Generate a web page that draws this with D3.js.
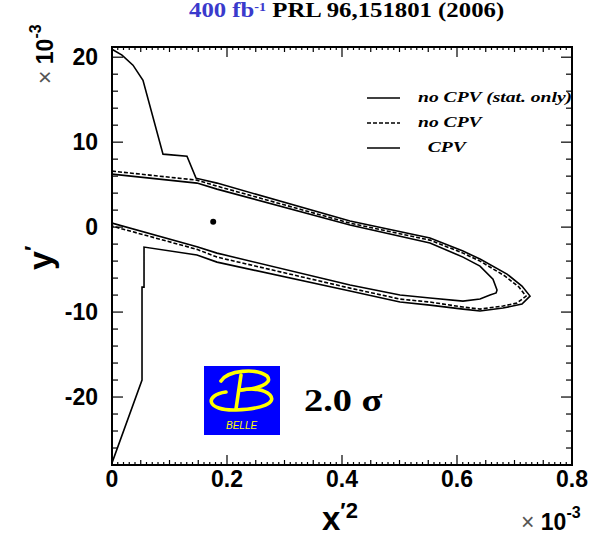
<!DOCTYPE html>
<html><head><meta charset="utf-8">
<script src="https://cdn.jsdelivr.net/npm/d3@7"></script>
<style>body{margin:0;background:#fff}svg{display:block}</style>
</head><body><svg id="c" width="604" height="536"></svg>
<script>
// ---- data (x'^2 and y' in units of 1e-3) ----
const xTickValues = [0, 0.2, 0.4, 0.6, 0.8];
const xTickLabels = ["0", "0.2", "0.4", "0.6", "0.8"];
const yTickValues = [-20, -10, 0, 10, 20];
const yTickLabels = ["-20", "-10", "0", "10", "20"];

const legendLabels = ["no CPV (stat. only)", "no CPV", "  CPV"];

// stat-only contour (solid, innermost)
const statOnly = [
  [0, 6.24], [0.1478, 5.18], [0.1826, 4.47], [0.4139, 0.24], [0.5530, -1.88],
  [0.6104, -3.53], [0.6400, -4.59], [0.6626, -6.12], [0.6696, -7.41], [0.6680, -7.75],
  [0.6574, -8.0], [0.6400, -8.47], [0.6104, -8.71], [0.5530, -8.35], [0.5009, -8.0],
  [0.4139, -6.82], [0.1826, -3.06], [0.1478, -2.31], [0, 0.47]
];
// no CPV contour (dashed)
const noCPV = [
  [0, 6.59], [0.1478, 5.53], [0.1826, 4.82], [0.4139, 0.47], [0.5530, -1.53],
  [0.6104, -3.06], [0.6400, -4.0], [0.6835, -5.76], [0.7078, -7.06], [0.7200, -8.12],
  [0.7043, -8.94], [0.6800, -9.29], [0.6400, -9.65], [0.6104, -9.41], [0.5530, -8.82],
  [0.5009, -8.47], [0.4139, -7.18], [0.1826, -3.53], [0.1478, -2.62], [0, 0.12]
];
// CPV contour (solid, outermost)
const cpv = [
  [0, 20.94], [0.0174, 20.24], [0.0365, 19.06], [0.0539, 17.29], [0.0887, 8.59],
  [0.1304, 8.35], [0.1461, 5.76], [0.1826, 5.18], [0.4139, 0.71], [0.5530, -1.29],
  [0.6104, -2.82], [0.6400, -3.76], [0.6870, -5.53], [0.7130, -6.94], [0.7270, -8.12],
  [0.7130, -9.06], [0.6800, -9.53], [0.6400, -9.88], [0.6104, -9.65], [0.5530, -9.18],
  [0.5009, -8.82], [0.4139, -7.53], [0.1826, -4.12], [0.1478, -3.29], [0.0557, -2.35],
  [0.0557, -7.06], [0.0522, -7.06], [0.0522, -18.0], [0, -27.76]
];
const bestFit = [[0.176, 0.62]];

// ---- layout ----
const L = 112, R = 572, T = 47, B = 465;
const svg = d3.select("#c");
const x = d3.scaleLinear().domain([0, 0.8]).range([L, R]);
const y = d3.scaleLinear().domain([-28, 21.2]).range([B, T]);

svg.append("defs").append("clipPath").attr("id", "pc")
  .append("rect").attr("x", L).attr("y", T).attr("width", R - L).attr("height", B - T);

const plot = svg.append("g").attr("clip-path", "url(#pc)");
const line = d3.line().x(d => x(d[0])).y(d => y(d[1]));

plot.append("path").datum(statOnly).attr("d", line).attr("fill", "none")
  .attr("stroke", "#000").attr("stroke-width", 1.6);
plot.append("path").datum(noCPV).attr("d", line).attr("fill", "none")
  .attr("stroke", "#000").attr("stroke-width", 1.6).attr("stroke-dasharray", "4,2");
plot.append("path").datum(cpv).attr("d", line).attr("fill", "none")
  .attr("stroke", "#000").attr("stroke-width", 1.6);
plot.selectAll("circle.bf").data(bestFit).enter().append("circle")
  .attr("cx", d => x(d[0])).attr("cy", d => y(d[1])).attr("r", 3).attr("fill", "#000");

// legend
const legG = plot.append("g");
const legRows = [98, 123, 148];
const legDash = [null, "4,2", null];
legendLabels.forEach((t, i) => {
  legG.append("line").attr("x1", 367).attr("x2", 400).attr("y1", legRows[i]).attr("y2", legRows[i])
    .attr("stroke", "#000").attr("stroke-width", 1.6).attr("stroke-dasharray", legDash[i]);
  legG.append("text").attr("transform", `translate(418,${legRows[i] + 4}) scale(1.4,1)`)
    .attr("font-family", "Liberation Serif").attr("font-weight", "bold").attr("font-style", "italic")
    .attr("font-size", 14).attr("xml:space", "preserve").style("white-space", "pre").text(t);
});

// ticks
const tk = svg.append("g").attr("stroke", "#000").attr("stroke-width", 1.2);
d3.range(0, 81).forEach(i => {
  const v = i / 100;
  const len = (i % 20 === 0) ? 10 : (i % 5 === 0 ? 5 : 3);
  tk.append("line").attr("x1", x(v)).attr("x2", x(v)).attr("y1", B).attr("y2", B - len);
  tk.append("line").attr("x1", x(v)).attr("x2", x(v)).attr("y1", T).attr("y2", T + len);
});
d3.range(-28, 22, 2).forEach(v => {
  const len = (v % 10 === 0) ? 11 : 6;
  tk.append("line").attr("x1", L).attr("x2", L + len).attr("y1", y(v)).attr("y2", y(v));
  tk.append("line").attr("x1", R).attr("x2", R - len).attr("y1", y(v)).attr("y2", y(v));
});
svg.append("rect").attr("x", L).attr("y", T).attr("width", R - L).attr("height", B - T)
  .attr("fill", "none").attr("stroke", "#000").attr("stroke-width", 2);

// tick labels
const sans = "Liberation Sans";
svg.selectAll("text.xl").data(xTickValues).enter().append("text")
  .attr("x", d => x(d)).attr("y", 487).attr("text-anchor", "middle")
  .attr("font-family", sans).attr("font-weight", "bold").attr("font-size", 23)
  .text((d, i) => xTickLabels[i]);
svg.selectAll("text.yl").data(yTickValues).enter().append("text")
  .attr("x", 98).attr("y", d => y(d) + 8).attr("text-anchor", "end")
  .attr("font-family", sans).attr("font-weight", "bold").attr("font-size", 23)
  .text((d, i) => yTickLabels[i]);

// axis titles
const xt = svg.append("text").attr("x", 322).attr("y", 530)
  .attr("font-family", sans).attr("font-weight", "bold").attr("font-size", 33);
xt.append("tspan").text("x");
xt.append("tspan").attr("font-size", 22).attr("dy", -12).text("′2");

const yt = svg.append("text").attr("transform", "translate(52,270) rotate(-90)")
  .attr("font-family", sans).attr("font-weight", "bold").attr("font-size", 34);
yt.append("tspan").text("y");
yt.append("tspan").attr("font-size", 22).attr("dy", -12).text("′");

// exponent labels
function expo(g) {
  g.append("tspan").attr("fill", "#555").attr("font-weight", "normal").text("× ");
  g.append("tspan").attr("font-weight", "bold").text("10");
  g.append("tspan").attr("font-weight", "bold").attr("font-size", 16).attr("dy", -12).text("-3");
}
expo(svg.append("text").attr("x", 521).attr("y", 530).attr("font-family", sans).attr("font-size", 23));
expo(svg.append("text").attr("transform", "translate(53,84) rotate(-90)").attr("font-family", sans).attr("font-size", 23));

// title
const tt = svg.append("text").attr("transform", "translate(189,17) scale(1.18,1)")
  .attr("font-family", "Liberation Serif").attr("font-weight", "bold").attr("font-size", 21);
tt.append("tspan").attr("fill", "#3a3acc").text("400 fb");
tt.append("tspan").attr("fill", "#3a3acc").attr("font-size", 12).attr("dy", -6).text("-1");
tt.append("tspan").attr("fill", "#000").attr("dy", 6).text(" PRL 96,151801 (2006)");

// Belle logo
const logo = svg.append("g");
logo.append("rect").attr("x", 204).attr("y", 366).attr("width", 76).attr("height", 69).attr("fill", "#0000ff");
const ly = logo.append("g").attr("fill", "none").attr("stroke", "#ffff00").attr("stroke-width", 3.6).attr("stroke-linecap", "round");
ly.append("path").attr("d", "M221,381 C228,370 256,368 267,376 C274,384 256,389 241,390");
ly.append("path").attr("d", "M241,375 L236,409");
ly.append("path").attr("d", "M226,392 C204,395 206,411 236,410 C262,409 277,403 270,395 C264,389 252,388 241,390");
logo.append("text").attr("x", 226).attr("y", 429).attr("font-family", sans).attr("font-style", "italic")
  .attr("font-size", 10).attr("fill", "#ffff00").text("BELLE");

svg.append("text").attr("transform", "translate(304,411) scale(1.2,1)").attr("font-family", "Liberation Serif")
  .attr("font-weight", "bold").attr("font-size", 32).text("2.0 σ");
</script></body></html>
